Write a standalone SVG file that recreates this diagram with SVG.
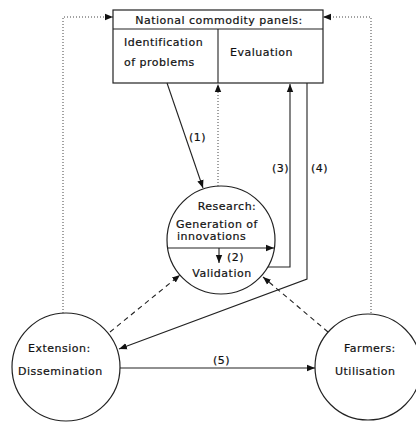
<svg xmlns="http://www.w3.org/2000/svg" width="416" height="422" viewBox="0 0 416 422">
<style>
text{font-family:"DejaVu Sans","Liberation Sans",sans-serif;font-size:11px;fill:#111;letter-spacing:0.5px;stroke:#111;stroke-width:0.2}
.c{text-anchor:middle}
.shape{fill:#fff;stroke:#222;stroke-width:1.2}
.ln{fill:none;stroke:#222;stroke-width:1.1}
.dot{fill:none;stroke:#444;stroke-width:1;stroke-dasharray:1 2}
.dash{fill:none;stroke:#222;stroke-width:1.1;stroke-dasharray:5 4}
</style>
<defs>
<marker id="ah" viewBox="0 0 10 10" refX="10" refY="5" markerWidth="8" markerHeight="8" markerUnits="userSpaceOnUse" orient="auto">
<path d="M0,1 L10,5 L0,9 z" fill="#111"/>
</marker>
</defs>
<rect width="416" height="422" fill="#fff"/>
<g id="panels">
<rect class="shape" x="113" y="10" width="210" height="73"/>
<line class="ln" x1="113" y1="29" x2="323" y2="29"/>
<line class="ln" x1="218" y1="29" x2="218" y2="83"/>
<text class="c" x="219" y="24">National commodity panels:</text>
<text x="124" y="46">Identification</text>
<text x="124" y="66">of problems</text>
<text x="230" y="56">Evaluation</text>
</g>
<g id="research">
<circle class="shape" cx="221" cy="240" r="54"/>
<text class="c" x="227" y="210">Research:</text>
<text x="176" y="228">Generation of</text>
<text x="177" y="240">innovations</text>
<text class="c" x="222" y="277">Validation</text>
</g>
<g id="extension">
<circle class="shape" cx="66" cy="367" r="54"/>
<text x="28" y="352">Extension:</text>
<text x="18" y="375">Dissemination</text>
</g>
<g id="farmers">
<circle class="shape" cx="368" cy="367" r="53"/>
<text x="344" y="352">Farmers:</text>
<text x="335" y="375">Utilisation</text>
</g>
<g id="connectors">
<polyline class="dot" points="63,313 63,17 113,17" marker-end="url(#ah)"/>
<polyline class="dot" points="371,313 371,17 323,17" marker-end="url(#ah)"/>
<line class="dot" x1="218" y1="186" x2="218" y2="84" marker-end="url(#ah)"/>
<line class="ln" x1="167" y1="83" x2="203" y2="188" marker-end="url(#ah)"/>
<text x="189" y="141">(1)</text>
<line class="ln" x1="167" y1="248" x2="274" y2="248" marker-end="url(#ah)"/>
<line class="ln" x1="219" y1="248" x2="219" y2="263" marker-end="url(#ah)"/>
<text x="227" y="261">(2)</text>
<polyline class="ln" points="268,267 290,267 290,84" marker-end="url(#ah)"/>
<text x="272" y="172">(3)</text>
<polyline class="ln" points="307,83 307,279 119,349" marker-end="url(#ah)"/>
<text x="311" y="172">(4)</text>
<line class="dash" x1="110" y1="332" x2="180" y2="275" marker-end="url(#ah)"/>
<line class="dash" x1="328" y1="332" x2="263" y2="277" marker-end="url(#ah)"/>
<line class="ln" x1="120" y1="368" x2="315" y2="368" marker-end="url(#ah)"/>
<text x="213" y="364">(5)</text>
</g>
</svg>
